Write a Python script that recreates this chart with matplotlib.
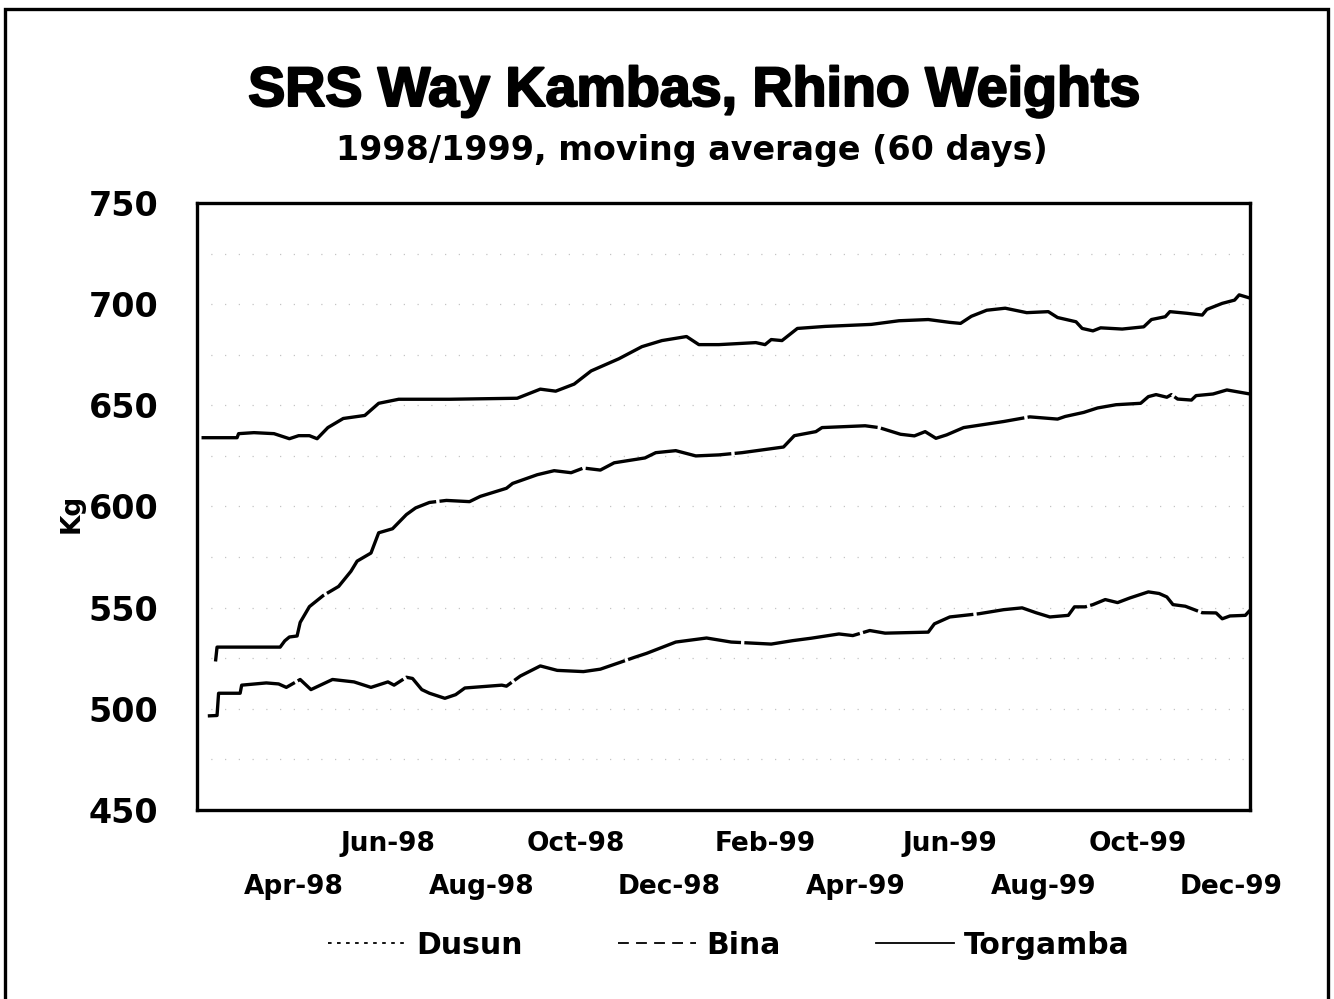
import matplotlib
matplotlib.use("Agg")
import matplotlib.pyplot as plt
import matplotlib.dates as mdates
import matplotlib.patheffects as pe
from matplotlib.lines import Line2D
from matplotlib.patches import Rectangle
import pandas as pd

# Torgamba (top line), 60-day moving average, kg
torgamba_dates = [
    "1998-02-01", "1998-02-23", "1998-02-24", "1998-03-06", "1998-03-19", "1998-03-29",
    "1998-04-04", "1998-04-11", "1998-04-16", "1998-04-23", "1998-05-03", "1998-05-17",
    "1998-05-26", "1998-06-08", "1998-07-11", "1998-08-24", "1998-09-08", "1998-09-18",
    "1998-09-30", "1998-10-11", "1998-10-29", "1998-11-13", "1998-11-26", "1998-12-12",
    "1998-12-20", "1999-01-02", "1999-01-26", "1999-02-01", "1999-02-05", "1999-02-12",
    "1999-02-22", "1999-03-12", "1999-04-11", "1999-04-29", "1999-05-18", "1999-06-01",
    "1999-06-08", "1999-06-15", "1999-06-25", "1999-07-07", "1999-07-21", "1999-08-04",
    "1999-08-10", "1999-08-22", "1999-08-26", "1999-09-02", "1999-09-07", "1999-09-21",
    "1999-10-05", "1999-10-10", "1999-10-19", "1999-10-22", "1999-11-02", "1999-11-12",
    "1999-11-15", "1999-11-25", "1999-12-03", "1999-12-06", "1999-12-13",
]
torgamba_kg = [
    634, 634, 636, 636.5, 636, 633.5,
    635, 635, 633.5, 639, 643.5, 645,
    651, 653, 653, 653.5, 658, 657,
    660.5, 667, 673, 679, 682, 684,
    680, 680, 681, 680, 682.5, 682,
    688, 689, 690, 691.8, 692.4, 691,
    690.5, 694, 697, 698, 695.8, 696.3,
    693.4, 691.3, 688, 686.8, 688.3, 687.7,
    688.8, 692.4, 693.8, 696.3, 695.5, 694.6,
    697.4, 700.4, 702, 704.6, 703,
]

# Bina (middle line)
bina_dates = [
    "1998-02-09", "1998-02-10", "1998-03-23", "1998-03-26", "1998-03-29", "1998-04-03",
    "1998-04-05", "1998-04-11", "1998-04-20", "1998-04-30", "1998-05-08", "1998-05-12",
    "1998-05-21", "1998-05-26", "1998-06-04", "1998-06-13", "1998-06-19", "1998-06-28",
    "1998-07-09", "1998-07-24", "1998-07-31", "1998-08-17", "1998-08-21", "1998-09-06",
    "1998-09-17", "1998-09-28", "1998-10-06", "1998-10-17", "1998-10-26", "1998-11-15",
    "1998-11-22", "1998-12-05", "1998-12-18", "1999-01-02", "1999-01-17", "1999-02-13",
    "1999-02-20", "1999-03-06", "1999-03-10", "1999-04-07", "1999-04-16", "1999-04-30",
    "1999-05-09", "1999-05-16", "1999-05-23", "1999-05-30", "1999-06-10", "1999-07-06",
    "1999-07-23", "1999-08-10", "1999-08-15", "1999-08-27", "1999-09-05", "1999-09-17",
    "1999-10-03", "1999-10-08", "1999-10-13", "1999-10-20", "1999-10-23", "1999-10-27",
    "1999-11-05", "1999-11-08", "1999-11-19", "1999-11-28", "1999-12-13",
]
bina_kg = [
    523.4, 530.5, 530.5, 533.6, 535.5, 536,
    542.7, 550.5, 556, 560.5, 568, 573,
    577, 587, 589, 596, 599.3, 602,
    603, 602.4, 605, 609, 611.4, 615.7,
    617.7, 616.7, 619, 618, 621.6, 624,
    626.6, 627.6, 625, 625.5, 626.6, 629.4,
    635, 637, 639, 639.9, 639, 635.7,
    634.9, 637, 633.7, 635.4, 639, 642,
    644.3, 643.2, 644.5, 646.5, 648.7, 650.3,
    651, 654.3, 655.3, 654, 655.3, 653.1,
    652.6, 654.8, 655.6, 657.6, 655.6,
]

# Dusun (bottom line)
dusun_dates = [
    "1998-02-04", "1998-02-10", "1998-02-11", "1998-02-25", "1998-02-26", "1998-03-14",
    "1998-03-22", "1998-03-27", "1998-04-05", "1998-04-12", "1998-04-26", "1998-05-10",
    "1998-05-21", "1998-06-01", "1998-06-05", "1998-06-13", "1998-06-17", "1998-06-23",
    "1998-06-28", "1998-07-08", "1998-07-15", "1998-07-21", "1998-08-14", "1998-08-17",
    "1998-08-26", "1998-09-08", "1998-09-19", "1998-10-06", "1998-10-17", "1998-10-30",
    "1998-11-08", "1998-11-16", "1998-12-05", "1998-12-25", "1999-01-10", "1999-02-05",
    "1999-02-19", "1999-03-03", "1999-03-21", "1999-03-30", "1999-04-10", "1999-04-20",
    "1999-05-18", "1999-05-22", "1999-06-01", "1999-06-20", "1999-07-06", "1999-07-18",
    "1999-07-27", "1999-08-05", "1999-08-17", "1999-08-21", "1999-08-28", "1999-09-02",
    "1999-09-10", "1999-09-18", "1999-09-26", "1999-10-08", "1999-10-15", "1999-10-20",
    "1999-10-24", "1999-11-01", "1999-11-12", "1999-11-21", "1999-11-25", "1999-11-30",
    "1999-12-10", "1999-12-13",
]
dusun_kg = [
    496.5, 496.7, 507.7, 507.7, 511.7, 512.8,
    512.3, 510.6, 514.5, 509.5, 514.5, 513.3,
    510.6, 513.3, 511.7, 515.6, 515, 509.5,
    507.7, 505.2, 507, 510.3, 511.7, 511.2,
    516.2, 521.2, 519, 518.4, 519.6, 523,
    525.4, 527.4, 533, 535, 533, 532,
    533.7, 534.9, 537, 536.2, 538.7, 537.4,
    537.9, 542, 545.4, 547, 549, 549.9,
    547.5, 545.4, 546.2, 550.4, 550.4, 551.5,
    554, 552.5, 554.8, 557.8, 557, 555.3,
    551.5, 550.7, 547.5, 547.4, 544.5, 545.9,
    546.2, 548.7,
]

lower_ticks = ["1998-04-01", "1998-08-01", "1998-12-01", "1999-04-01", "1999-08-01", "1999-12-01"]
upper_ticks = ["1998-06-01", "1998-10-01", "1999-02-01", "1999-06-01", "1999-10-01"]
y_ticks = [450, 500, 550, 600, 650, 700, 750]
grid_levels = [475, 500, 525, 550, 575, 600, 625, 650, 675, 700, 725]

bold = {"family": "DejaVu Sans", "weight": "bold"}

fig = plt.figure(figsize=(13.34, 9.99), dpi=100)
ax = fig.add_axes([0.1477, 0.1892, 0.7893, 0.6076])

# faint dotted gridlines (scan shows them as sparse dots)
for g in grid_levels:
    ax.axhline(g, color="#c4c4c4", lw=0.9, ls=(0, (1, 10)), zorder=1)

ax.plot(pd.to_datetime(dusun_dates), dusun_kg, color="black", lw=2.4, ls=(0, (35, 1)), zorder=3)
ax.plot(pd.to_datetime(bina_dates), bina_kg, color="black", lw=2.4, ls=(0, (45, 1)), zorder=3)
ax.plot(pd.to_datetime(torgamba_dates), torgamba_kg, color="black", lw=2.4, zorder=3)

ax.set_xlim(pd.Timestamp("1998-01-28"), pd.Timestamp("1999-12-13"))
ax.set_ylim(450, 750)
ax.set_yticks(y_ticks)
ax.set_yticklabels([str(v) for v in y_ticks], fontdict=bold, fontsize=24)
ax.tick_params(axis="y", length=0, pad=28)

ax.set_xticks(pd.to_datetime(lower_ticks))
ax.set_xticks(pd.to_datetime(upper_ticks), minor=True)
fmt = mdates.DateFormatter("%b-%y")
ax.xaxis.set_major_formatter(fmt)
ax.xaxis.set_minor_formatter(fmt)
for lab in ax.get_xticklabels(which="both"):
    lab.set_fontfamily("DejaVu Sans")
    lab.set_fontweight("bold")
    lab.set_fontsize(19)
ax.tick_params(axis="x", which="major", length=0, pad=46)
ax.tick_params(axis="x", which="minor", length=0, pad=15)

for s in ax.spines.values():
    s.set_linewidth(2.4)

fig.text(0.054, 0.486, "Kg", rotation=90, ha="center", va="center", fontsize=19, **bold)

title = fig.text(0.52, 0.908, "SRS Way Kambas, Rhino Weights", ha="center", va="center",
                 fontsize=40, family="Liberation Sans", weight="bold")
title.set_path_effects([pe.withStroke(linewidth=1.6, foreground="black")])
fig.text(0.519, 0.849, "1998/1999, moving average (60 days)", ha="center", va="center",
         fontsize=24, **bold)

handles = [
    Line2D([], [], color="black", lw=1.3, ls=(0, (2, 3))),
    Line2D([], [], color="black", lw=1.3, ls=(0, (6, 4))),
    Line2D([], [], color="black", lw=1.3),
]
fig.legend(handles, ["Dusun", "Bina", "Torgamba"], loc="center", bbox_to_anchor=(0.5465, 0.054),
           ncol=3, frameon=False, handlelength=2.6, handletextpad=0.35, columnspacing=3.2,
           prop={"family": "DejaVu Sans", "weight": "bold", "size": 21.5})

# outer frame of the scanned page
fig.add_artist(Rectangle((0.0037, -0.02), 0.9918, 1.011, transform=fig.transFigure,
                         fill=False, lw=2.4, edgecolor="black"))

fig.savefig("out.png", dpi=100, facecolor="white")
